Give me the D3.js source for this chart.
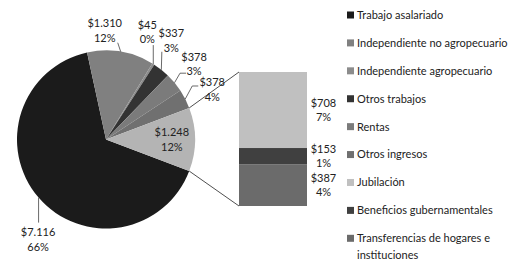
<!DOCTYPE html>
<html>
<head>
<meta charset="utf-8">
<script src="https://cdn.jsdelivr.net/npm/d3@7"></script>
<style>
  body { margin: 0; background: #fff; }
  svg text { font-family: Lato, "Liberation Sans", sans-serif; font-size: 11px; fill: #222; }
</style>
</head>
<body>
<div id="chart"></div>
<script>
// main pie (last slice is the "other" slice that is broken out in the bar)
const pieCategories = ["Trabajo asalariado", "Independiente no agropecuario", "Independiente agropecuario",
  "Otros trabajos", "Rentas", "Otros ingresos", "Otros"];
const pieValues = [7116, 1310, 45, 337, 378, 378, 1248];
const piePercents = [66, 12, 0, 3, 3, 4, 12];

// secondary bar, from bottom to top
const barCategories = ["Transferencias de hogares e instituciones", "Beneficios gubernamentales", "Jubilación"];
const barValues = [387, 153, 708];
const barPercents = [4, 1, 7];

const legendLabels = ["Trabajo asalariado", "Independiente no agropecuario", "Independiente agropecuario",
  "Otros trabajos", "Rentas", "Otros ingresos", "Jubilación", "Beneficios gubernamentales",
  "Transferencias de hogares e instituciones"];

const colors = {
  "Trabajo asalariado": "#1b1b1b",
  "Independiente no agropecuario": "#808080",
  "Independiente agropecuario": "#8c8c8c",
  "Otros trabajos": "#333333",
  "Rentas": "#7b7b7b",
  "Otros ingresos": "#707070",
  "Otros": "#b4b4b4",
  "Jubilación": "#c0c0c0",
  "Beneficios gubernamentales": "#404040",
  "Transferencias de hogares e instituciones": "#6b6b6b"
};

const width = 518, height = 267;
const cx = 106, cy = 139.5, r = 89;

// label placement around the pie: label centre and leader points, relative to the slice's edge point
const labelLayout = [
  { dx: -0.5, dy: 42, leader: [[0, 25]] },
  { dx: -16, dy: -21, leader: [[-3, -9]] },
  { dx: -6, dy: -32, leader: [[0, -19]] },
  { dx: 10, dy: -29, leader: [[0.5, -18]] },
  { dx: 19.5, dy: -18.5, leader: [[5.5, -9.5], [11.5, -9.5]] },
  { dx: 27, dy: -9.5, leader: [[7, -13], [13, -13]] },
  null
];

const locale = d3.formatLocale({ decimal: ",", thousands: ".", grouping: [3], currency: ["$", ""] });
const fmtMoney = v => "$" + locale.format(",")(v);

const svg = d3.select("#chart").append("svg")
  .attr("width", width).attr("height", height);

// pie, with the broken-out slice centred on the right
const total = d3.sum(pieValues);
const otherAngle = pieValues[pieValues.length - 1] / total * 2 * Math.PI;
const start = Math.PI / 2 + otherAngle / 2;
const pie = d3.pie().sort(null).startAngle(start).endAngle(start + 2 * Math.PI);
const arcs = pie(pieValues);
const arc = d3.arc().innerRadius(0).outerRadius(r);

const pieG = svg.append("g").attr("transform", `translate(${cx},${cy})`);
pieG.selectAll("path.slice")
  .data(arcs)
  .enter()
  .append("path")
  .attr("class", "slice")
  .attr("d", arc)
  .attr("fill", (d, i) => colors[pieCategories[i]]);

// secondary bar
const barX0 = 239, barX1 = 307;
const y = d3.scaleLinear().domain([0, d3.sum(barValues)]).range([206, 72]);
const stacked = [];
let acc = 0;
barValues.forEach((v, i) => {
  stacked.push({ name: barCategories[i], v0: acc, v1: acc + v, value: v, pct: barPercents[i] });
  acc += v;
});

svg.selectAll("rect.bar")
  .data(stacked)
  .enter()
  .append("rect")
  .attr("class", "bar")
  .attr("x", barX0)
  .attr("width", barX1 - barX0)
  .attr("y", d => y(d.v1))
  .attr("height", d => y(d.v0) - y(d.v1))
  .attr("fill", d => colors[d.name]);

// connector lines from the "other" slice to the bar
const otherArc = arcs[arcs.length - 1];
const edgePoint = a => [cx + r * Math.sin(a), cy - r * Math.cos(a)];
const pTop = edgePoint(otherArc.startAngle);
const pBot = edgePoint(otherArc.endAngle);
svg.append("line")
  .attr("x1", pTop[0]).attr("y1", pTop[1]).attr("x2", barX0).attr("y2", y.range()[1])
  .attr("stroke", "#222").attr("stroke-width", 0.8);
svg.append("line")
  .attr("x1", pBot[0]).attr("y1", pBot[1]).attr("x2", barX0).attr("y2", y.range()[0])
  .attr("stroke", "#222").attr("stroke-width", 0.8);

// two-line labels
function twoLine(g, x, yc, l1, l2) {
  const t = g.append("text").attr("text-anchor", "middle");
  t.append("tspan").attr("x", x).attr("y", yc - 7.25).attr("dy", "0.35em").text(l1);
  t.append("tspan").attr("x", x).attr("y", yc + 7.25).attr("dy", "0.35em").text(l2);
}

const labelsG = svg.append("g");
arcs.forEach((d, i) => {
  const mid = (d.startAngle + d.endAngle) / 2;
  const lay = labelLayout[i];
  const label1 = fmtMoney(pieValues[i]);
  const label2 = piePercents[i] + "%";
  if (!lay) {
    const c = [cx + 0.74 * r * Math.sin(mid), cy - 0.74 * r * Math.cos(mid)];
    twoLine(labelsG, c[0], c[1], label1, label2);
    return;
  }
  const p = edgePoint(mid);
  const pts = [p].concat(lay.leader.map(o => [p[0] + o[0], p[1] + o[1]]));
  labelsG.append("path")
    .attr("d", d3.line()(pts))
    .attr("fill", "none")
    .attr("stroke", "#444")
    .attr("stroke-width", 0.8);
  twoLine(labelsG, p[0] + lay.dx, p[1] + lay.dy, label1, label2);
});

// bar labels
stacked.forEach(d => {
  twoLine(labelsG, 323.5, y((d.v0 + d.v1) / 2), fmtMoney(d.value), d.pct + "%");
});

// legend
const legendY = d3.scalePoint().domain(legendLabels).range([15, 238.3]);
const legend = svg.append("g").attr("class", "legend");
legendLabels.forEach(name => {
  const yy = legendY(name);
  legend.append("rect")
    .attr("x", 347).attr("y", yy - 3.5)
    .attr("width", 7).attr("height", 7)
    .attr("fill", colors[name]);
  const t = legend.append("text").attr("x", 357).attr("y", yy).attr("dy", "0.35em");
  if (name === "Transferencias de hogares e instituciones") {
    t.append("tspan").attr("x", 357).text("Transferencias de hogares e");
    t.append("tspan").attr("x", 357).attr("dy", "1.55em").text("instituciones");
  } else {
    t.text(name);
  }
});
</script>
</body>
</html>
